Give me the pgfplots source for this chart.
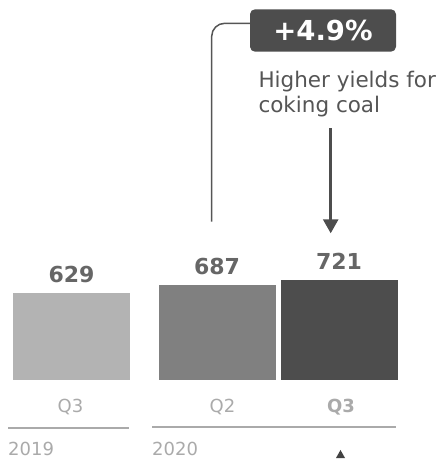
\documentclass[border=0pt]{standalone}
\usepackage{pgfplots}
\pgfplotsset{compat=1.18}
\usepackage{fontspec}
\setmainfont{DejaVu Sans}
\usetikzlibrary{arrows.meta}
\definecolor{barA}{HTML}{B3B3B3}
\definecolor{barB}{HTML}{808080}
\definecolor{barC}{HTML}{4D4D4D}
\definecolor{lbl}{HTML}{666666}
\definecolor{tick}{HTML}{AAAAAA}
\definecolor{txt}{HTML}{555555}
\begin{document}
\begin{tikzpicture}
\useasboundingbox (0,0) rectangle (439bp,459bp);
\begin{axis}[
  at={(0bp,79bp)}, anchor=south west,
  scale only axis, width=439bp, height=380bp,
  xmin=0, xmax=439, ymin=0, ymax=2750,
  axis line style={draw=none}, ytick=\empty,
  ybar, bar width=117, bar shift=0pt,
  xtick={70.5,222.5,341}, xticklabels={Q3,Q2,\textbf{Q3}},
  major tick length=0pt, tick style={draw=none},
  xticklabel style={anchor=base, yshift=-32bp, text=tick, font=\fontsize{18bp}{20bp}\selectfont},
  nodes near coords,
  /pgf/number format/assume math mode=true,
  every node near coord/.append style={anchor=base, yshift=11bp, text=lbl, font=\fontsize{22bp}{25bp}\selectfont\bfseries},
  clip=false,
]
\addplot[fill=barA, draw=none] coordinates {(71.5,629)};
\addplot[fill=barB, draw=none] coordinates {(217,687)};
\addplot[fill=barC, draw=none] coordinates {(339,721)};
\end{axis}
% period lines and years
\draw[tick, line width=2bp] (8bp,31bp) -- (129bp,31bp);
\draw[tick, line width=2bp] (152bp,32.3bp) -- (396bp,32.3bp);
\node[anchor=base west, inner sep=0pt, text=tick, font=\fontsize{18bp}{20bp}\selectfont] at (8bp,4bp) {2019};
\node[anchor=base west, inner sep=0pt, text=tick, font=\fontsize{18bp}{20bp}\selectfont] at (152bp,4bp) {2020};
\fill[barC!85!black] (336bp,1bp) -- (345bp,1bp) -- (340.5bp,9bp) -- cycle;
% annotation
\draw[txt, line width=1.5bp, rounded corners=13bp] (211.7bp,237.3bp) -- (211.7bp,435.7bp) -- (251bp,435.7bp);
\fill[barC, rounded corners=5bp] (250bp,407.3bp) rectangle (396bp,449.7bp);
\node[text=white, font=\fontsize{27.5bp}{30bp}\selectfont\bfseries, inner sep=0pt] at (323bp,428.5bp) {+4.9\%};
\node[anchor=base west, inner sep=0pt, text=txt, font=\fontsize{21.5bp}{25bp}\selectfont] at (258.3bp,371.7bp) {Higher yields for};
\node[anchor=base west, inner sep=0pt, text=txt, font=\fontsize{21.5bp}{25bp}\selectfont] at (258.3bp,346.3bp) {coking coal};
\draw[barC, line width=2.7bp, -{Triangle[width=15bp,length=14bp]}] (330.7bp,330.7bp) -- (330.7bp,225.7bp);
\end{tikzpicture}
\end{document}
